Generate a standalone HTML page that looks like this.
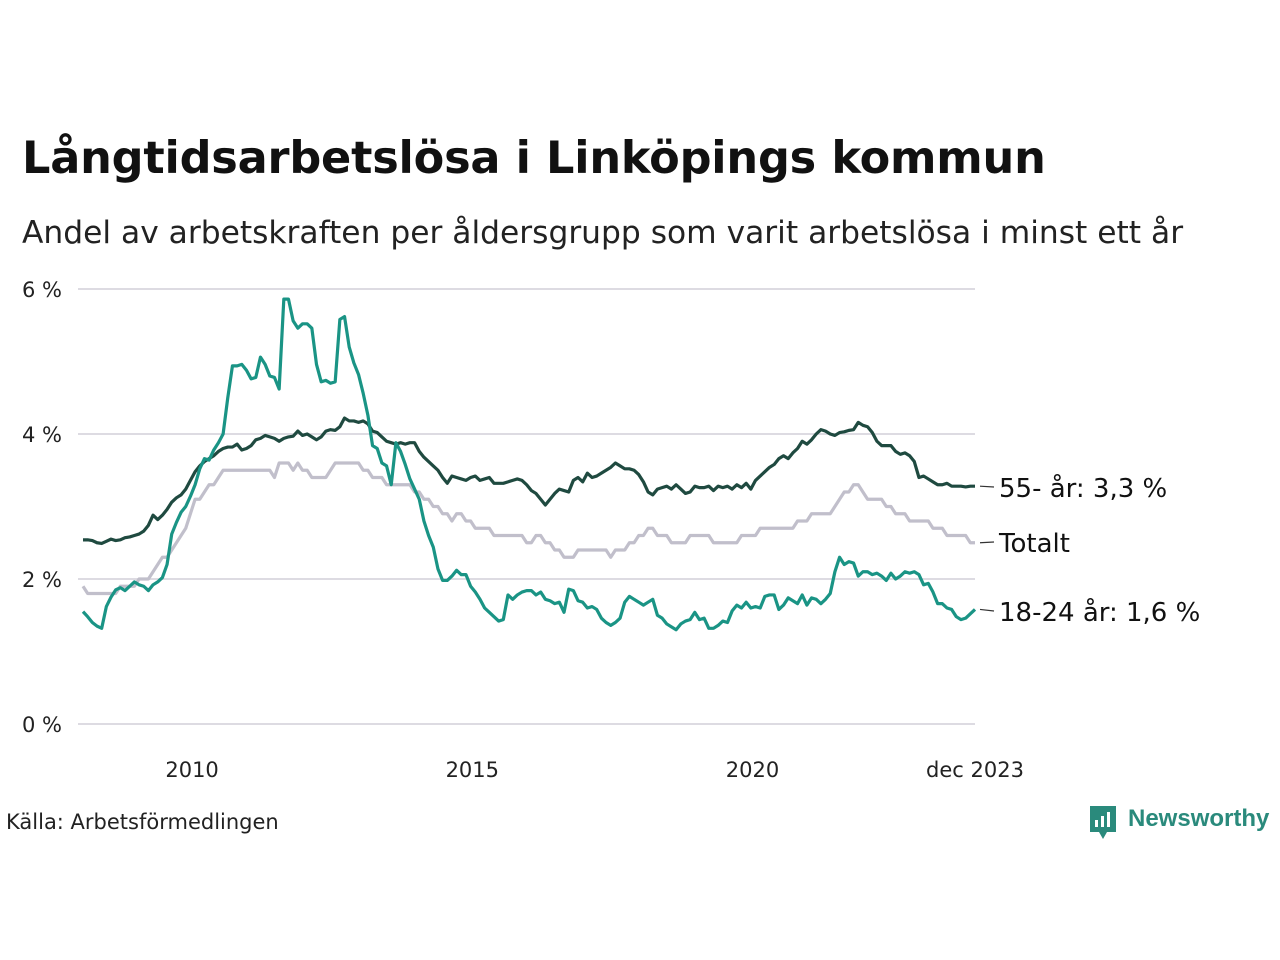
<!DOCTYPE html>
<html><head><meta charset="utf-8">
<style>
body{margin:0;width:1280px;height:960px;background:#fff;font-family:"DejaVu Sans","Liberation Sans",sans-serif;overflow:hidden;position:relative}
.t{position:absolute;white-space:nowrap;color:#111}
</style></head><body>
<div class="t" style="left:22px;top:132px;font-size:44.6px;font-weight:bold;letter-spacing:-0.2px">Långtidsarbetslösa i Linköpings kommun</div>
<div class="t" style="left:22px;top:215px;font-size:31.3px;color:#222">Andel av arbetskraften per åldersgrupp som varit arbetslösa i minst ett år</div>
<svg id="chart" width="1280" height="960" style="position:absolute;left:0;top:0"></svg>
<div class="t" style="left:6px;top:810px;font-size:21px;color:#222">Källa: Arbetsförmedlingen</div>
<div style="position:absolute;left:1088px;top:804px;">
<svg width="30" height="36" style="position:absolute;left:0;top:0"><path d="M2 2h26v26h-9l-4 7-4-7H2z" fill="#2a8a7c"/><rect x="7" y="16" width="3" height="7" fill="#fff"/><rect x="13" y="12" width="3" height="11" fill="#fff"/><rect x="19" y="8" width="3" height="15" fill="#fff"/></svg>
<div class="t" style="left:40px;top:1px;font-size:24px;font-weight:bold;color:#2a8a7c;font-family:'Liberation Sans',sans-serif">Newsworthy</div></div>
<script>
const yTicks=[0,2,4,6];
const yTickLabels=["0 %","2 %","4 %","6 %"];
const xTickYears=[2010,2015,2020];
const startYear=2008;
const s55=[2.54,2.54,2.53,2.50,2.49,2.52,2.55,2.53,2.54,2.57,2.58,2.60,
2.62,2.66,2.74,2.88,2.82,2.88,2.96,3.06,3.12,3.16,3.24,3.36,
3.48,3.56,3.62,3.66,3.70,3.76,3.80,3.82,3.82,3.86,3.78,3.80,
3.84,3.92,3.94,3.98,3.96,3.94,3.90,3.94,3.96,3.97,4.04,3.98,
4.00,3.96,3.92,3.96,4.04,4.06,4.05,4.10,4.22,4.18,4.18,4.16,
4.18,4.14,4.04,4.02,3.96,3.90,3.88,3.86,3.88,3.86,3.88,3.88,
3.76,3.68,3.62,3.56,3.50,3.40,3.32,3.42,3.40,3.38,3.36,3.40,
3.42,3.36,3.38,3.40,3.32,3.32,3.32,3.34,3.36,3.38,3.36,3.30,
3.22,3.18,3.10,3.02,3.10,3.18,3.24,3.22,3.20,3.36,3.40,3.34,
3.46,3.40,3.42,3.46,3.50,3.54,3.60,3.56,3.52,3.52,3.50,3.44,
3.34,3.20,3.16,3.24,3.26,3.28,3.24,3.30,3.24,3.18,3.20,3.28,
3.26,3.26,3.28,3.22,3.28,3.26,3.28,3.24,3.30,3.26,3.32,3.24,
3.36,3.42,3.48,3.54,3.58,3.66,3.70,3.66,3.74,3.80,3.90,3.86,
3.92,4.00,4.06,4.04,4.00,3.98,4.02,4.03,4.05,4.06,4.16,4.12,
4.10,4.02,3.90,3.84,3.84,3.84,3.76,3.72,3.74,3.70,3.62,3.40,
3.42,3.38,3.34,3.30,3.30,3.32,3.28,3.28,3.28,3.27,3.28,3.28];
const sTot=[1.9,1.8,1.8,1.8,1.8,1.8,1.8,1.8,1.9,1.9,1.9,1.9,
2.0,2.0,2.0,2.1,2.2,2.3,2.3,2.4,2.5,2.6,2.7,2.9,
3.1,3.1,3.2,3.3,3.3,3.4,3.5,3.5,3.5,3.5,3.5,3.5,
3.5,3.5,3.5,3.5,3.5,3.4,3.6,3.6,3.6,3.5,3.6,3.5,
3.5,3.4,3.4,3.4,3.4,3.5,3.6,3.6,3.6,3.6,3.6,3.6,
3.5,3.5,3.4,3.4,3.4,3.3,3.3,3.3,3.3,3.3,3.3,3.2,
3.2,3.1,3.1,3.0,3.0,2.9,2.9,2.8,2.9,2.9,2.8,2.8,
2.7,2.7,2.7,2.7,2.6,2.6,2.6,2.6,2.6,2.6,2.6,2.5,
2.5,2.6,2.6,2.5,2.5,2.4,2.4,2.3,2.3,2.3,2.4,2.4,
2.4,2.4,2.4,2.4,2.4,2.3,2.4,2.4,2.4,2.5,2.5,2.6,
2.6,2.7,2.7,2.6,2.6,2.6,2.5,2.5,2.5,2.5,2.6,2.6,
2.6,2.6,2.6,2.5,2.5,2.5,2.5,2.5,2.5,2.6,2.6,2.6,
2.6,2.7,2.7,2.7,2.7,2.7,2.7,2.7,2.7,2.8,2.8,2.8,
2.9,2.9,2.9,2.9,2.9,3.0,3.1,3.2,3.2,3.3,3.3,3.2,
3.1,3.1,3.1,3.1,3.0,3.0,2.9,2.9,2.9,2.8,2.8,2.8,
2.8,2.8,2.7,2.7,2.7,2.6,2.6,2.6,2.6,2.6,2.5,2.5];
const s1824=[1.55,1.48,1.40,1.35,1.32,1.62,1.75,1.85,1.88,1.84,1.90,1.96,
1.92,1.90,1.84,1.92,1.96,2.02,2.20,2.62,2.78,2.92,3.00,3.14,
3.30,3.52,3.66,3.64,3.78,3.88,4.00,4.50,4.94,4.94,4.96,4.88,
4.76,4.78,5.06,4.96,4.80,4.78,4.62,5.86,5.86,5.56,5.46,5.52,
5.52,5.46,4.96,4.72,4.74,4.70,4.72,5.58,5.62,5.20,4.98,4.82,
4.56,4.26,3.84,3.80,3.60,3.56,3.30,3.88,3.76,3.58,3.38,3.24,
3.10,2.80,2.60,2.44,2.14,1.98,1.98,2.04,2.12,2.06,2.06,1.90,
1.82,1.72,1.60,1.54,1.48,1.42,1.44,1.78,1.72,1.78,1.82,1.84,
1.84,1.78,1.82,1.72,1.70,1.66,1.68,1.54,1.86,1.84,1.70,1.68,
1.60,1.62,1.58,1.46,1.40,1.36,1.40,1.46,1.68,1.76,1.72,1.68,
1.64,1.68,1.72,1.50,1.46,1.38,1.34,1.30,1.38,1.42,1.44,1.54,
1.44,1.46,1.32,1.32,1.36,1.42,1.40,1.56,1.64,1.60,1.68,1.60,
1.62,1.60,1.76,1.78,1.78,1.58,1.64,1.74,1.70,1.66,1.78,1.64,
1.74,1.72,1.66,1.72,1.80,2.10,2.30,2.20,2.24,2.22,2.04,2.10,
2.10,2.06,2.08,2.04,1.98,2.08,2.00,2.04,2.10,2.08,2.10,2.06,
1.92,1.94,1.82,1.66,1.66,1.60,1.58,1.48,1.44,1.46,1.52,1.58];
const seriesLabels=["55- år: 3,3 %","Totalt","18-24 år: 1,6 %"];

const NS="http://www.w3.org/2000/svg";
const svg=document.getElementById('chart');
const yS=v=>724-v*72.5;
const xS=i=>83+i*((975-83)/191);
function mk(t,a){const e=document.createElementNS(NS,t);for(const k in a)e.setAttribute(k,a[k]);svg.appendChild(e);return e;}
yTicks.forEach((v,i)=>{
 const g=mk('line',{x1:78,x2:975,y1:yS(v),y2:yS(v),stroke:'#dddbe2','stroke-width':2});
 
 
 const t=mk('text',{x:22,y:yS(v)+8,'font-size':21,fill:'#222','font-family':'DejaVu Sans, sans-serif'});
 t.textContent=yTickLabels[i];
 
 
});
xTickYears.forEach(y=>{
 const t=mk('text',{x:xS((y-startYear)*12)-3,y:777,'font-size':21,fill:'#222','text-anchor':'middle','font-family':'DejaVu Sans, sans-serif'});
 t.textContent=String(y);
 
 
});
const lt=mk('text',{x:xS(s55.length-1),y:777,'font-size':21,fill:'#222','text-anchor':'middle','font-family':'DejaVu Sans, sans-serif'});
lt.textContent='dec 2023';


const series=[[sTot,'#c1bfcb','line-totalt'],[s55,'#1f4a40','line-55'],[s1824,'#1a9485','line-18-24']];
series.forEach(([d,c,n])=>{
 const p=mk('polyline',{points:d.map((v,i)=>xS(i)+','+yS(v)).join(' '),fill:'none',stroke:c,'stroke-width':3.2,'stroke-linejoin':'round'});
 
 
});
const lbls=[[s55,seriesLabels[0],488],[sTot,seriesLabels[1],543],[s1824,seriesLabels[2],612]];
lbls.forEach(([d,txt,ly])=>{
 const yv=yS(d[d.length-1]);
 const l=mk('line',{x1:980,x2:994,y1:yv,y2:ly-1,stroke:'#333','stroke-width':1.2});
 
 
 const t=mk('text',{x:999,y:ly+9,'font-size':26,fill:'#111','font-family':'DejaVu Sans, sans-serif'});
 t.textContent=txt;
 
 
});
</script>
</body></html>
